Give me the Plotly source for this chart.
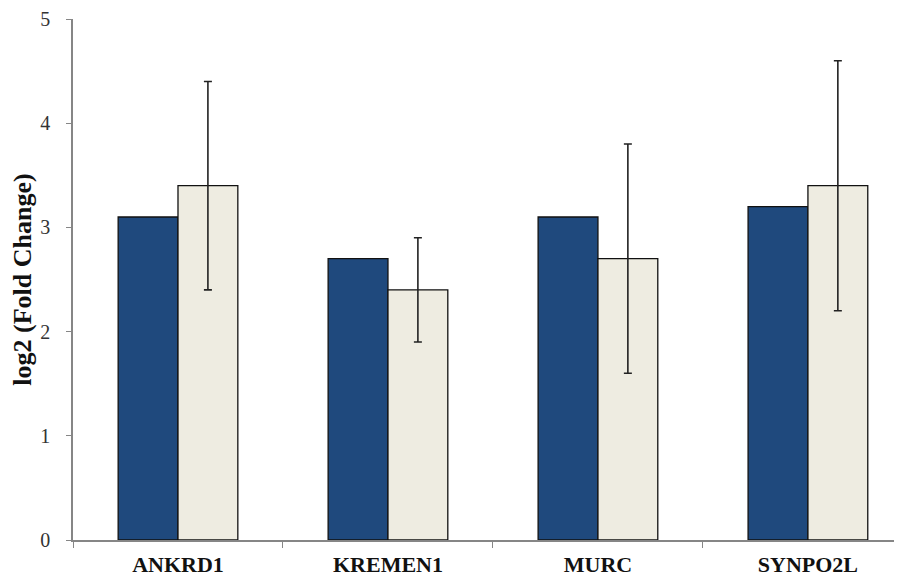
import plotly.graph_objects as go

categories = ["ANKRD1", "KREMEN1", "MURC", "SYNPO2L"]
series_a = [3.1, 2.7, 3.1, 3.2]
series_b = [3.4, 2.4, 2.7, 3.4]
series_b_err = [1.0, 0.5, 1.1, 1.2]
y_ticks = [0, 1, 2, 3, 4, 5]

fig = go.Figure()
fig.add_trace(go.Bar(
    x=categories, y=series_a, name="A",
    marker=dict(color="#1F497D", line=dict(color="#111111", width=1.3)),
))
fig.add_trace(go.Bar(
    x=categories, y=series_b, name="B",
    marker=dict(color="#EEECE1", line=dict(color="#111111", width=1.3)),
    error_y=dict(type="data", array=series_b_err, visible=True,
                 color="#222222", thickness=1.6, width=4),
))

fig.update_layout(
    width=894, height=569,
    margin=dict(l=65, r=0, t=11, b=37, autoexpand=False),
    paper_bgcolor="white", plot_bgcolor="white",
    barmode="group", bargap=0.43, bargroupgap=0,
    showlegend=False,
    font=dict(family="Liberation Serif, Times New Roman, serif", color="#111111"),
    xaxis=dict(
        type="category", range=[-0.5, 3.448], automargin=False,
        tickson="boundaries", ticks="outside", ticklen=6, tickcolor="#868686",
        showline=True, linecolor="#868686", linewidth=1.5,
        tickfont=dict(size=22, family="Liberation Serif", color="#111111"),
        ticklabelstandoff=4,
        showgrid=False,
    ),
    yaxis=dict(
        range=[0, 5], tickvals=y_ticks, automargin=False,
        ticks="outside", ticklen=5, tickcolor="#868686",
        showline=True, linecolor="#868686", linewidth=1.5,
        showgrid=False, zeroline=False,
        ticklabelstandoff=12,
        tickfont=dict(size=20, family="Liberation Serif", color="#333333"),
        title=dict(text="<b>log2 (Fold Change)</b>", standoff=8,
                   font=dict(size=26, family="Liberation Serif", color="#111111")),
    ),
)
fig.update_xaxes(tickprefix="<b>", ticksuffix="</b>")

fig.write_html("out.html")
